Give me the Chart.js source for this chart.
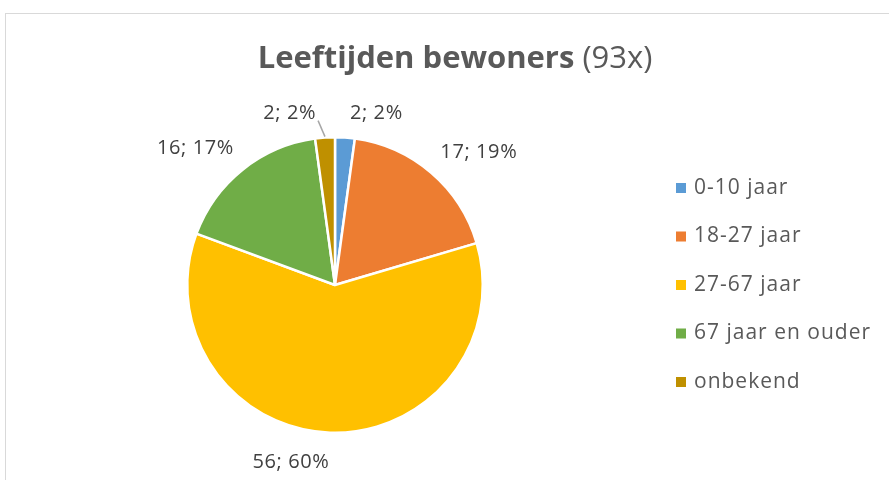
<!DOCTYPE html>
<html lang="nl">
<head>
  <meta charset="UTF-8">
  <title>Leeftijden bewoners</title>
  <script src="https://cdn.jsdelivr.net/npm/chart.js"></script>
  <style>
    body { margin: 0; background: #fff; }
    .frame { position: absolute; left: 5px; top: 13px; width: 900px; height: 500px; border: 1px solid #d9d9d9; }
    #pie { position: absolute; left: 0; top: 0; }
  </style>
</head>
<body>
  <div class="frame"></div>
  <canvas id="pie" width="889" height="480"></canvas>

  <script>
    // gegevens
    const categories = ['0-10 jaar', '18-27 jaar', '27-67 jaar', '67 jaar en ouder', 'onbekend'];
    const counts = [2, 17, 56, 16, 2];
    const colors = ['#5B9BD5', '#ED7D31', '#FFC000', '#70AD47', '#BF9000'];
    const titleBold = 'Leeftijden bewoners';
    const titleNormal = ' (93x)';

    const FONT = '"Open Sans", Lato, sans-serif';

    // percentages afronden zodat het totaal 100 is (zoals Excel)
    function roundedPercents(vals) {
      const total = vals.reduce((a, b) => a + b, 0);
      const raw = vals.map(v => v / total * 100);
      const out = raw.map(Math.floor);
      let rest = 100 - out.reduce((a, b) => a + b, 0);
      const order = raw.map((v, i) => [v - Math.floor(v), i]).sort((a, b) => b[0] - a[0]);
      for (let k = 0; k < rest; k++) out[order[k][1]]++;
      return out;
    }

    // titel met vet + normaal deel
    const titlePlugin = {
      id: 'mixedTitle',
      afterDraw(chart) {
        const ctx = chart.ctx;
        ctx.save();
        ctx.fillStyle = '#595959';
        ctx.textBaseline = 'middle';
        ctx.font = 'bold 31px ' + FONT;
        const w1 = ctx.measureText(titleBold).width;
        ctx.font = '31px ' + FONT;
        const w2 = ctx.measureText(titleNormal).width;
        let x = 455 - (w1 + w2) / 2;
        ctx.font = 'bold 31px ' + FONT;
        ctx.textAlign = 'left';
        ctx.fillText(titleBold, x, 59);
        ctx.font = '31px ' + FONT;
        ctx.fillText(titleNormal, x + w1, 59);
        ctx.restore();
      }
    };

    // labels "aantal; pct%" buiten de taart
    const labelPlugin = {
      id: 'outsideLabels',
      afterDatasetsDraw(chart, args, opts) {
        const ctx = chart.ctx;
        const meta = chart.getDatasetMeta(0);
        const data = chart.data.datasets[0].data;
        const pcts = roundedPercents(data);
        ctx.save();
        ctx.font = '20px ' + FONT;
        ctx.letterSpacing = '0.6px';
        ctx.fillStyle = '#404040';
        meta.data.forEach((arc, i) => {
          const mid = (arc.startAngle + arc.endAngle) / 2;
          const c = Math.cos(mid), s = Math.sin(mid);
          const r = arc.outerRadius + opts.gap + (s > 0.3 ? 6 : 0);
          const ax = arc.x + c * r;
          const ay = arc.y + s * r;
          const txt = data[i] + '; ' + pcts[i] + '%';
          ctx.textAlign = c > 0.01 ? 'left' : (c < -0.01 ? 'right' : 'center');
          ctx.textBaseline = s < -0.3 ? 'bottom' : (s > 0.3 ? 'top' : 'middle');
          const tx = ax + ((opts.shift && opts.shift[i]) || 0);
          ctx.fillText(txt, tx, ay);
          if (opts.leaders.includes(i)) {
            ctx.strokeStyle = '#a6a6a6';
            ctx.lineWidth = 1.5;
            ctx.beginPath();
            ctx.moveTo(arc.x + c * (arc.outerRadius + 1), arc.y + s * (arc.outerRadius + 1));
            ctx.lineTo(tx + 2, ay - 3);
            ctx.stroke();
          }
        });
        ctx.restore();
      }
    };

    // legenda rechts
    const legendPlugin = {
      id: 'sideLegend',
      afterDraw(chart) {
        const ctx = chart.ctx;
        ctx.save();
        ctx.font = '21px ' + FONT;
        ctx.letterSpacing = '1px';
        ctx.textBaseline = 'middle';
        ctx.textAlign = 'left';
        chart.data.labels.forEach((lab, i) => {
          const y = 188 + i * 48.5;
          ctx.fillStyle = chart.data.datasets[0].backgroundColor[i];
          ctx.fillRect(676, y - 5, 10, 10);
          ctx.fillStyle = '#595959';
          ctx.fillText(lab, 694, y);
        });
        ctx.restore();
      }
    };

    new Chart(document.getElementById('pie'), {
      type: 'pie',
      data: {
        labels: categories,
        datasets: [{
          data: counts,
          backgroundColor: colors,
          borderColor: '#ffffff',
          borderWidth: 2.5
        }]
      },
      options: {
        responsive: false,
        animation: false,
        layout: { padding: { left: 186, right: 405, top: 136, bottom: 46 } },
        plugins: {
          legend: { display: false },
          tooltip: { enabled: false },
          outsideLabels: { gap: 14, leaders: [4], shift: [4, 0, 0, 0, -8] }
        }
      },
      plugins: [titlePlugin, labelPlugin, legendPlugin]
    });
  </script>
</body>
</html>
